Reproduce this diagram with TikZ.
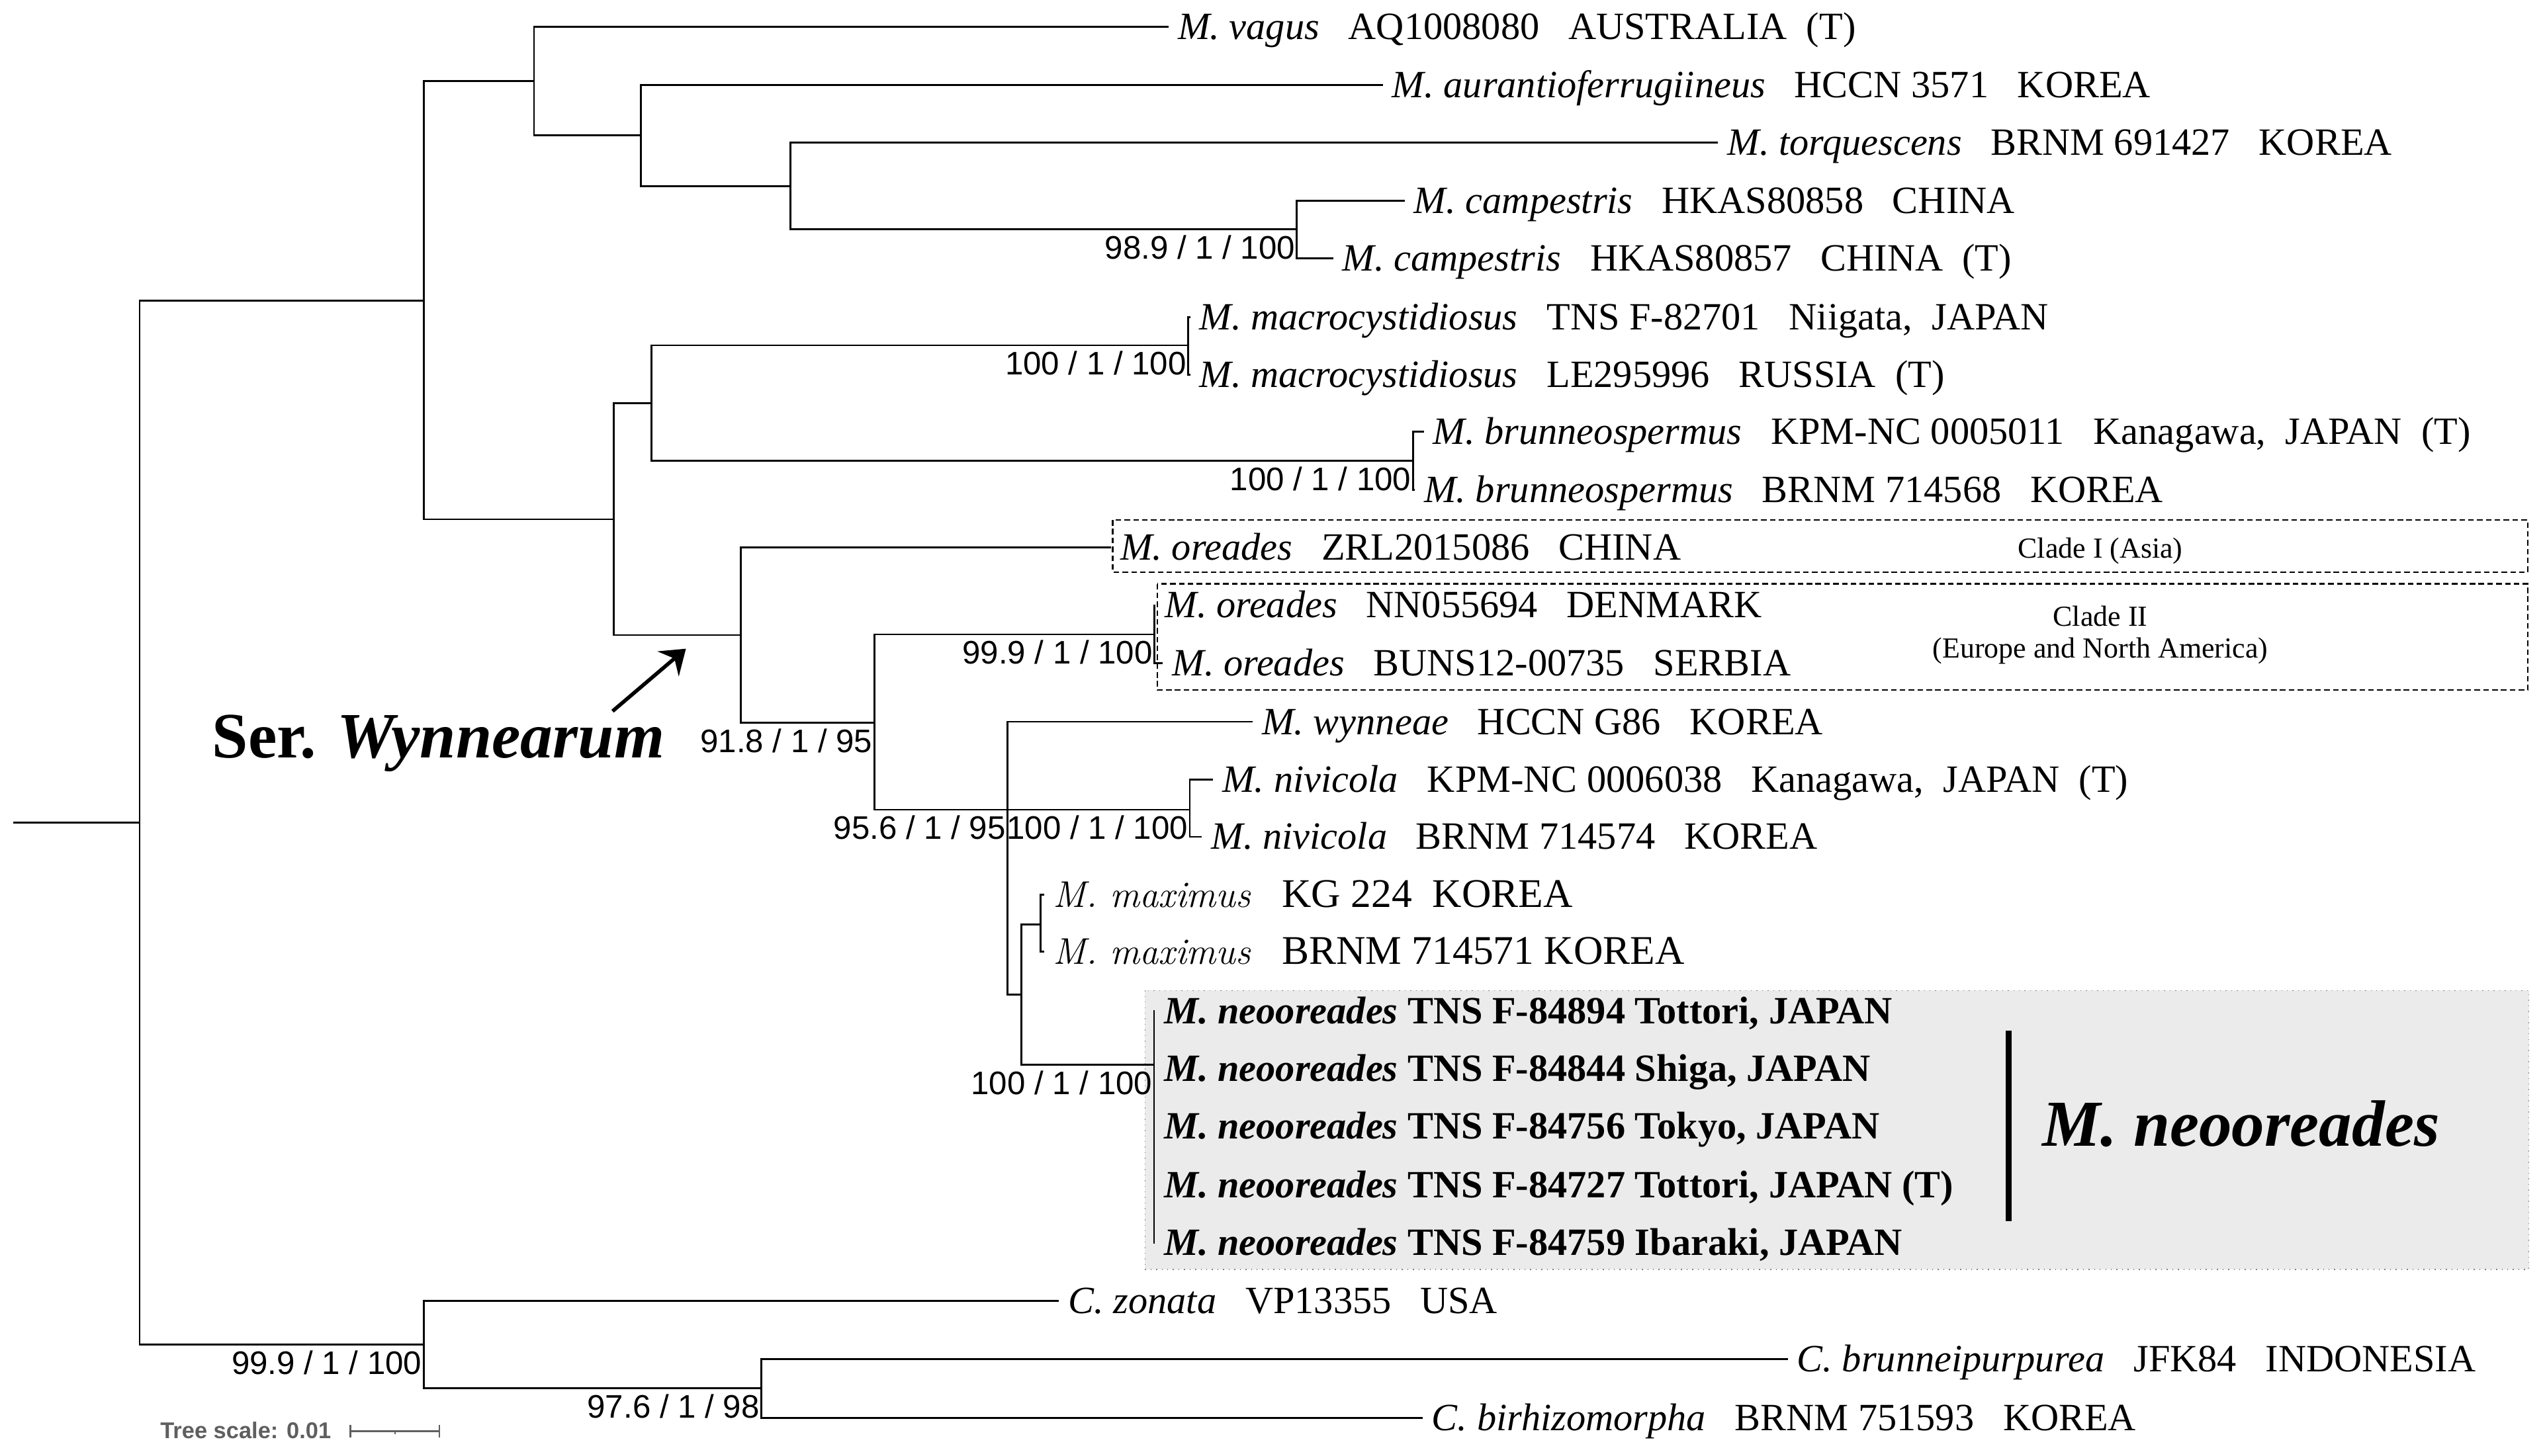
\documentclass[tikz,border=0pt]{standalone}
\usepackage{fontspec}
\setmainfont{Liberation Serif}
\setsansfont{Liberation Sans}
\newfontfamily\lmfamily{Latin Modern Roman}
\usepackage{xcolor}
\usetikzlibrary{arrows.meta}
\definecolor{speciesShade}{RGB}{235,235,235}
\definecolor{scaleGrey}{RGB}{95,95,95}
\newcommand{\fgap}{\hspace{0.75em}}
\newcommand{\sgap}{\hspace{0.5em}}
\newcommand{\maxname}{{\lmfamily\fontsize{16}{19}\selectfont\itshape M. maximus}\hspace{13.5pt}}
\tikzset{
  branch/.style={line width=0.8pt},
  leaf/.style={anchor=base west,inner sep=0pt,xshift=3.8pt,yshift=-5.4pt,font=\fontsize{16.6}{20}\selectfont},
  maxleaf/.style={leaf,font=\fontsize{17.5}{20}\selectfont},
  neoleaf/.style={leaf,font=\fontsize{16.6}{20}\selectfont\bfseries},
  support/.style={anchor=north east,inner sep=0pt,xshift=-0.6pt,yshift=-2.4pt,font=\sffamily\fontsize{14}{16}\selectfont},
  cladebox/.style={draw,line width=0.7pt,dash pattern=on 2.4pt off 1.4pt},
  cladetag/.style={anchor=base,inner sep=0pt,font=\fontsize{12.5}{15}\selectfont},
}
\begin{document}
\begin{tikzpicture}[x=0.024528cm,y=-0.024528cm]
\useasboundingbox (0,0) rectangle (1568,897);
% boxes behind the tree
\draw[fill=speciesShade,draw=gray,dotted,line width=0.4pt] (705.4,610.4) rectangle (1558,782.4);
\draw[cladebox] (685.6,320.5) rectangle (1557.4,352.7);
\draw[cladebox] (713,359.8) rectangle (1557.4,425.2);
% internal nodes
\coordinate (stem) at (8,507);
\coordinate (n0) at (86,507);
\coordinate (nA) at (261,185.4);
\coordinate (nB) at (329,50);
\coordinate (nC) at (395,83.5);
\coordinate (nD) at (487,114.7);
\coordinate (nE) at (799,141.4);
\coordinate (nF) at (378,320);
\coordinate (nG) at (401.5,248.6);
\coordinate (nH) at (732,212.8);
\coordinate (nI) at (870.5,284);
\coordinate (nJ) at (456.4,391.4);
\coordinate (nK) at (538.6,445.5);
\coordinate (nO) at (711.2,391);
\coordinate (nL) at (620.7,499);
\coordinate (nN) at (733,499);
\coordinate (nP) at (629.3,612.8);
\coordinate (nQ) at (641,569.6);
\coordinate (nR) at (711,656.2);
\coordinate (nS) at (261,828.7);
\coordinate (nT) at (469,855.6);
% leaf ends
\coordinate (vagus) at (720,16.6);
\coordinate (aur) at (852,52.3);
\coordinate (torq) at (1058.5,88);
\coordinate (camp1) at (865.5,123.6);
\coordinate (camp2) at (821.3,159.3);
\coordinate (mac1) at (733.3,195.4);
\coordinate (mac2) at (733.3,231);
\coordinate (brun1) at (877.2,266);
\coordinate (brun2) at (871.7,302);
\coordinate (oreZ) at (684.5,337.4);
\coordinate (oreN) at (712,373);
\coordinate (oreB) at (716.5,408.8);
\coordinate (wyn) at (771.8,444.8);
\coordinate (niv1) at (747.4,480.3);
\coordinate (niv2) at (740.5,515.7);
\coordinate (max1) at (643.2,551.5);
\coordinate (max2) at (643.2,586.5);
\coordinate (neo1) at (711.5,623);
\coordinate (neo2) at (711.5,658.5);
\coordinate (neo3) at (711.5,694);
\coordinate (neo4) at (711.5,730.5);
\coordinate (neo5) at (711.5,765.7);
\coordinate (zon) at (652.5,801.8);
\coordinate (cbru) at (1101.5,837.7);
\coordinate (cbir) at (876.5,873.8);
% branches
\draw[branch] (stem) -- (n0);
\draw[branch] (n0) |- (nA) (n0) |- (nS);
\draw[branch] (nA) |- (nB) (nA) |- (nF);
\draw[branch] (nB) |- (vagus) (nB) |- (nC);
\draw[branch] (nC) |- (aur) (nC) |- (nD);
\draw[branch] (nD) |- (torq) (nD) |- (nE);
\draw[branch] (nE) |- (camp1) (nE) |- (camp2);
\draw[branch] (nF) |- (nG) (nF) |- (nJ);
\draw[branch] (nG) |- (nH) (nG) |- (nI);
\draw[branch] (nH) |- (mac1) (nH) |- (mac2);
\draw[branch] (nI) |- (brun1) (nI) |- (brun2);
\draw[branch] (nJ) |- (oreZ) (nJ) |- (nK);
\draw[branch] (nK) |- (nO) (nK) |- (nL);
\draw[branch] (nO) |- (oreN) (nO) |- (oreB);
\draw[branch] (nL) |- (wyn) (nL) |- (nN) (nL) |- (nP);
\draw[branch] (nN) |- (niv1) (nN) |- (niv2);
\draw[branch] (nP) |- (nQ) (nP) |- (nR);
\draw[branch] (nQ) |- (max1) (nQ) |- (max2);
\draw[branch] (nR) |- (neo1) (nR) |- (neo2) (nR) |- (neo3) (nR) |- (neo4) (nR) |- (neo5);
\draw[branch] (nS) |- (zon) (nS) |- (nT);
\draw[branch] (nT) |- (cbru) (nT) |- (cbir);
% support values
\node[support] (supE) at (nE) {98.9 / 1 / 100};
\node[support] (supH) at (nH) {100 / 1 / 100};
\node[support] (supI) at (nI) {100 / 1 / 100};
\node[support] (supO) at (nO) {99.9 / 1 / 100};
\node[support] (supK) at (nK) {91.8 / 1 / 95};
\node[support] (supL) at (nL) {95.6 / 1 / 95};
\node[support] (supN) at (nN) {100 / 1 / 100};
\node[support] (supR) at (nR) {100 / 1 / 100};
\node[support] (supS) at (nS) {99.9 / 1 / 100};
\node[support] (supT) at (nT) {97.6 / 1 / 98};
% leaf labels
\node[leaf] (vagusLbl) at (vagus) {\textit{M. vagus}\fgap AQ1008080\fgap AUSTRALIA\sgap (T)};
\node[leaf] (aurLbl) at (aur) {\textit{M. aurantioferrugiineus}\fgap HCCN 3571\fgap KOREA};
\node[leaf] (torqLbl) at (torq) {\textit{M. torquescens}\fgap BRNM 691427\fgap KOREA};
\node[leaf] (camp1Lbl) at (camp1) {\textit{M. campestris}\fgap HKAS80858\fgap CHINA};
\node[leaf] (camp2Lbl) at (camp2) {\textit{M. campestris}\fgap HKAS80857\fgap CHINA\sgap (T)};
\node[leaf] (mac1Lbl) at (mac1) {\textit{M. macrocystidiosus}\fgap TNS F-82701\fgap Niigata,\sgap JAPAN};
\node[leaf] (mac2Lbl) at (mac2) {\textit{M. macrocystidiosus}\fgap LE295996\fgap RUSSIA\sgap (T)};
\node[leaf] (brun1Lbl) at (brun1) {\textit{M. brunneospermus}\fgap KPM-NC 0005011\fgap Kanagawa,\sgap JAPAN\sgap (T)};
\node[leaf] (brun2Lbl) at (brun2) {\textit{M. brunneospermus}\fgap BRNM 714568\fgap KOREA};
\node[leaf] (oreZLbl) at (oreZ) {\textit{M. oreades}\fgap ZRL2015086\fgap CHINA};
\node[leaf] (oreNLbl) at (oreN) {\textit{M. oreades}\fgap NN055694\fgap DENMARK};
\node[leaf] (oreBLbl) at (oreB) {\textit{M. oreades}\fgap BUNS12-00735\fgap SERBIA};
\node[leaf] (wynLbl) at (wyn) {\textit{M. wynneae}\fgap HCCN G86\fgap KOREA};
\node[leaf] (niv1Lbl) at (niv1) {\textit{M. nivicola}\fgap KPM-NC 0006038\fgap Kanagawa,\sgap JAPAN\sgap (T)};
\node[leaf] (niv2Lbl) at (niv2) {\textit{M. nivicola}\fgap BRNM 714574\fgap KOREA};
\node[maxleaf] (max1Lbl) at (max1) {\maxname KG 224\sgap KOREA};
\node[maxleaf] (max2Lbl) at (max2) {\maxname BRNM 714571 KOREA};
\node[neoleaf] (neo1Lbl) at (neo1) {\textit{M. neooreades} TNS F-84894 Tottori, JAPAN};
\node[neoleaf] (neo2Lbl) at (neo2) {\textit{M. neooreades} TNS F-84844 Shiga, JAPAN};
\node[neoleaf] (neo3Lbl) at (neo3) {\textit{M. neooreades} TNS F-84756 Tokyo, JAPAN};
\node[neoleaf] (neo4Lbl) at (neo4) {\textit{M. neooreades} TNS F-84727 Tottori, JAPAN (T)};
\node[neoleaf] (neo5Lbl) at (neo5) {\textit{M. neooreades} TNS F-84759 Ibaraki, JAPAN};
\node[leaf] (zonLbl) at (zon) {\textit{C. zonata}\fgap VP13355\fgap USA};
\node[leaf] (cbruLbl) at (cbru) {\textit{C. brunneipurpurea}\fgap JFK84\fgap INDONESIA};
\node[leaf] (cbirLbl) at (cbir) {\textit{C. birhizomorpha}\fgap BRNM 751593\fgap KOREA};
% clade tags
\node[cladetag] (cladeOne) at (1294,343.7) {Clade I (Asia)};
\node[cladetag] (cladeTwo) at (1294,385.8) {Clade II};
\node[cladetag] (cladeTwoSub) at (1294,405.5) {(Europe and North America)};
% series pointer
\node[anchor=base west,inner sep=0pt,font=\fontsize{27.8}{32}\selectfont\bfseries] (serLbl) at (130.5,467) {Ser. \textit{Wynnearum}};
\coordinate (arrTail) at (377.4,438.3);
\coordinate (arrTip) at (422.6,399.8);
\draw[line width=1.6pt,-{Stealth[length=10pt,width=14pt,inset=3.5pt]}] (arrTail) -- (arrTip);
% new species bar
\coordinate (barTop) at (1237.5,635);
\coordinate (barBot) at (1237.5,752.6);
\draw[line width=2.6pt] (barTop) -- (barBot);
\node[anchor=base west,inner sep=0pt,font=\fontsize{28.2}{32}\selectfont\bfseries\itshape] (neoTag) at (1258,706.5) {M. neooreades};
% tree scale
\node[anchor=base west,inner sep=0pt,text=scaleGrey,font=\sffamily\bfseries\fontsize{9.8}{12}\selectfont] (scaleLbl) at (98.5,886.4) {Tree scale: 0.01};
\coordinate (scaleL) at (215.8,882);
\coordinate (scaleM) at (243.3,882);
\coordinate (scaleR) at (270.7,882);
\draw[scaleGrey,line width=0.8pt] (scaleL) -- (scaleR);
\draw[scaleGrey,line width=0.8pt] ([yshift=2.6pt]scaleL) -- ([yshift=-2.6pt]scaleL);
\draw[scaleGrey,line width=0.8pt] ([yshift=2.6pt]scaleR) -- ([yshift=-2.6pt]scaleR);
\draw[scaleGrey,line width=0.6pt] (scaleM) -- ([yshift=-1.4pt]scaleM);
\end{tikzpicture}
\end{document}
